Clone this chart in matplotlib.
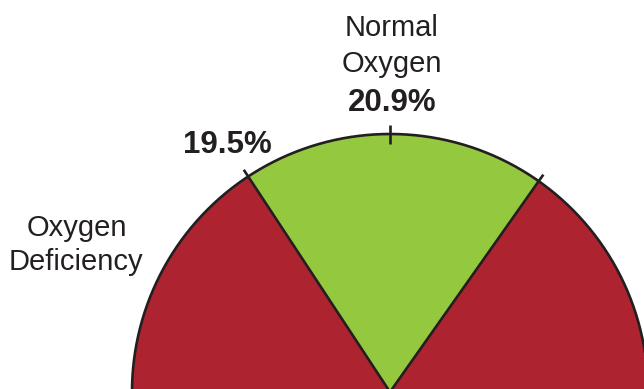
import numpy as np
import matplotlib
matplotlib.use("Agg")
import matplotlib.pyplot as plt
from matplotlib.patches import Wedge

plt.rcParams['font.family'] = ['Liberation Sans', 'DejaVu Sans']

# Gauge bands, given as angular spans (degrees, counter-clockwise from the right)
band_names = ["Oxygen Enrichment", "Normal Oxygen", "Oxygen Deficiency"]
band_starts = [0.0, 54.8, 123.35]
band_ends = [54.8, 123.35, 180.0]
band_colors = ["#AD2430", "#94C83E", "#AD2430"]

# Labelled readings on the dial
tick_values = ["19.5%", "20.9%"]
tick_angles = [123.35, 90.0]

W, H = 644, 389
fig = plt.figure(figsize=(W / 100, H / 100), dpi=100)
ax = fig.add_axes([0, 0, 1, 1])
ax.set_xlim(0, W)
ax.set_ylim(H, 0)
ax.set_aspect('equal')
ax.axis('off')

cx, cy, R = 390.0, 392.0, 258.0
edge = "#231F20"

# Wedges are drawn in a y-down pixel frame, so angles are negated
for a0, a1, col in zip(band_starts, band_ends, band_colors):
    ax.add_patch(Wedge((cx, cy), R, -a1, -a0, facecolor=col, edgecolor='none'))

# Outer rim
t = np.radians(np.linspace(0, 180, 400))
ax.plot(cx + R * np.cos(t), cy - R * np.sin(t), color=edge, lw=1.9,
        solid_capstyle='butt')

# Dividers between bands, with a short tick beyond the rim
for a in band_starts[1:]:
    r = np.radians(a)
    ax.plot([cx, cx + (R + 8) * np.cos(r)], [cy, cy - (R + 8) * np.sin(r)],
            color=edge, lw=1.9, solid_capstyle='butt')

# Tick for the normal reading
r = np.radians(tick_angles[1])
ax.plot([cx + (R - 10) * np.cos(r), cx + (R + 9) * np.cos(r)],
        [cy - (R - 10) * np.sin(r), cy - (R + 9) * np.sin(r)],
        color=edge, lw=1.9, solid_capstyle='butt')

txt = dict(color=edge, ha='center', va='baseline')
ax.text(392, 36, "Normal", fontsize=21, **txt)
ax.text(392, 72, "Oxygen", fontsize=21, **txt)
ax.text(392, 111, tick_values[1], fontsize=22.5, fontweight='bold', **txt)
ax.text(227, 153, tick_values[0], fontsize=22.5, fontweight='bold', **txt)
ax.text(77, 236, "Oxygen", fontsize=21, **txt)
ax.text(76, 270, "Deficiency", fontsize=21, **txt)

fig.savefig("out.png", dpi=100)
